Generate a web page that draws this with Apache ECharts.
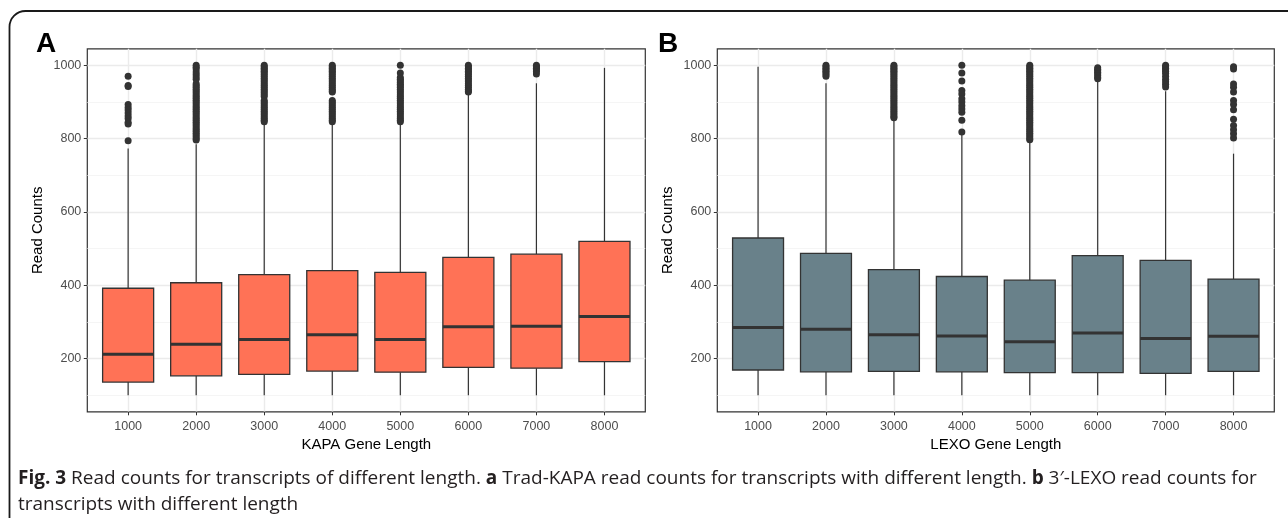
<!DOCTYPE html>
<html><head><meta charset="utf-8">
<script src="https://cdn.jsdelivr.net/npm/echarts@6/dist/echarts.min.js"></script>
<style>html,body{margin:0;padding:0;background:#fff}#c{width:1288px;height:518px}</style>
</head><body><div id="c"></div>
<script>
// ---------- data ----------
const categories = ['1000','2000','3000','4000','5000','6000','7000','8000'];
const yTicks = [200, 400, 600, 800, 1000];
const yMinorTicks = [100, 300, 500, 700, 900];

// Panel A: KAPA
const kapaLow    = [100, 100, 100, 100, 100, 100, 100, 100];
const kapaQ1     = [136, 153, 157, 166, 163, 176, 174, 192];
const kapaMedian = [212, 239, 252, 265, 252, 287, 288, 315];
const kapaQ3     = [392, 407, 429, 440, 435, 476, 485, 520];
const kapaHigh   = [773, 785, 845, 845, 845, 927, 951, 993];
const kapaOutliers = [
  [970, 945, 942, 893, 885, 878, 870, 862, 855, 845, 840, 794],
  [1000, 995, 990, 982, 975, 968, 962, 950, 945, 940, 935, 930, 925, 920, 915, 910, 905, 900, 895, 890, 885, 880, 875, 870, 865, 860, 855, 850, 845, 840, 835, 830, 825, 820, 815, 810, 805, 800, 796],
  [1000, 996, 992, 988, 984, 980, 975, 970, 965, 960, 955, 950, 945, 940, 935, 930, 925, 920, 915, 904, 900, 895, 890, 885, 880, 875, 870, 865, 860, 855, 850, 846],
  [1000, 996, 992, 988, 984, 980, 975, 970, 965, 960, 955, 950, 945, 940, 935, 930, 927, 904, 900, 895, 890, 885, 880, 875, 870, 865, 860, 855, 850, 846],
  [1000, 979, 967, 962, 958, 953, 948, 944, 940, 935, 930, 925, 920, 915, 910, 905, 900, 895, 890, 885, 880, 875, 870, 865, 860, 855, 850, 846],
  [1000, 996, 992, 988, 984, 980, 975, 970, 965, 960, 955, 950, 945, 940, 935, 930, 927],
  [1000, 996, 992, 988, 983, 976],
  []
];

// Panel B: LEXO
const lexoLow    = [100, 100, 100, 100, 100, 100, 100, 100];
const lexoQ1     = [169, 164, 165, 164, 162, 162, 160, 165];
const lexoMedian = [285, 280, 265, 262, 246, 270, 255, 261];
const lexoQ3     = [529, 487, 443, 424, 414, 481, 468, 417];
const lexoHigh   = [996, 951, 856, 816, 796, 963, 929, 759];
const lexoOutliers = [
  [],
  [1000, 996, 992, 988, 984, 980, 975, 970],
  [1000, 996, 992, 988, 984, 980, 975, 970, 965, 960, 955, 950, 945, 940, 935, 930, 925, 920, 915, 910, 905, 900, 895, 890, 885, 880, 875, 870, 865, 860, 857],
  [1000, 979, 957, 931, 922, 909, 900, 890, 881, 872, 850, 818],
  [1000, 996, 992, 988, 984, 980, 975, 970, 965, 960, 955, 950, 945, 940, 935, 930, 925, 920, 915, 910, 905, 900, 895, 890, 885, 880, 875, 870, 865, 860, 855, 850, 845, 840, 835, 830, 825, 820, 815, 810, 805, 800, 797],
  [993, 989, 985, 981, 977, 972, 967, 963],
  [1000, 996, 992, 988, 984, 978, 970, 962, 955, 948, 941],
  [996, 990, 949, 940, 927, 904, 893, 879, 853, 836, 824, 813, 802]
];

const panelTitles = ['A', 'B'];
const xTitles = ['KAPA Gene Length', 'LEXO Gene Length'];
const yTitle = 'Read Counts';

// ---------- build ----------
const FONT = 'Liberation Sans, Arial, Helvetica, sans-serif';
const catValues = categories.map((c, i) => i + 1);

function boxData(lo, q1, med, q3, hi) {
  return categories.map((c, i) => [i + 1, lo[i], q1[i], med[i], q3[i], hi[i]]);
}
function outlierData(list) {
  const out = [];
  list.forEach((vals, i) => vals.forEach(v => out.push([i + 1, v])));
  return out;
}
function makeRender(fill) {
  return function (params, api) {
    const x = api.value(0);
    const pLo = api.coord([x, api.value(1)]);
    const pQ1 = api.coord([x, api.value(2)]);
    const pMed = api.coord([x, api.value(3)]);
    const pQ3 = api.coord([x, api.value(4)]);
    const pHi = api.coord([x, api.value(5)]);
    const bw = api.size([1, 0])[0] * 0.75;
    const stroke = '#333333';
    return {
      type: 'group',
      children: [
        { type: 'line', shape: { x1: pLo[0], y1: pLo[1], x2: pQ1[0], y2: pQ1[1] }, style: { stroke, lineWidth: 1.2 } },
        { type: 'line', shape: { x1: pQ3[0], y1: pQ3[1], x2: pHi[0], y2: pHi[1] }, style: { stroke, lineWidth: 1.2 } },
        { type: 'rect', shape: { x: pQ3[0] - bw / 2, y: pQ3[1], width: bw, height: pQ1[1] - pQ3[1] }, style: { fill, stroke, lineWidth: 1.3 } },
        { type: 'line', shape: { x1: pMed[0] - bw / 2, y1: pMed[1], x2: pMed[0] + bw / 2, y2: pMed[1] }, style: { stroke, lineWidth: 3 } }
      ]
    };
  };
}

const grids = [
  { left: 87.3, top: 48.8, width: 558, height: 363, show: true, borderColor: '#333333', borderWidth: 1.2, backgroundColor: '#ffffff' },
  { left: 717.3, top: 48.8, width: 557, height: 363, show: true, borderColor: '#333333', borderWidth: 1.2, backgroundColor: '#ffffff' }
];

const xAxes = [0, 1].map(g => ({
  type: 'value', gridIndex: g, min: 0.4, max: 8.6,
  name: xTitles[g], nameLocation: 'middle', nameGap: 22,
  nameTextStyle: { fontFamily: FONT, fontSize: 15, color: '#000' },
  axisLine: { show: false, onZero: false },
  axisTick: { show: true, length: 3.5, customValues: catValues, lineStyle: { color: '#333333', width: 1 } },
  axisLabel: { customValues: catValues, formatter: v => categories[Math.round(v) - 1], fontFamily: FONT, fontSize: 12.5, color: '#4D4D4D', margin: 8 },
  splitLine: { show: false }
}));
const yAxes = [0, 1].map(g => ({
  type: 'value', gridIndex: g, min: 55, max: 1045,
  name: yTitle, nameLocation: 'middle', nameGap: 42,
  nameTextStyle: { fontFamily: FONT, fontSize: 15, color: '#000' },
  axisLine: { show: false, onZero: false },
  axisTick: { show: true, length: 3.5, customValues: yTicks, lineStyle: { color: '#333333', width: 1 } },
  axisLabel: { customValues: yTicks, formatter: v => String(v), fontFamily: FONT, fontSize: 12.5, color: '#4D4D4D', margin: 6 },
  splitLine: { show: false }
}));

function gridLineSeries(g) {
  const major = { color: '#EBEBEB', width: 1.4, type: 'solid' };
  const minor = { color: '#F2F2F2', width: 0.8, type: 'solid' };
  const data = [];
  yMinorTicks.forEach(v => data.push({ yAxis: v, lineStyle: minor }));
  yTicks.forEach(v => data.push({ yAxis: v, lineStyle: major }));
  catValues.forEach(v => data.push({ xAxis: v, lineStyle: major }));
  return {
    type: 'scatter', xAxisIndex: g, yAxisIndex: g, data: [], z: 0, silent: true,
    markLine: { z: 0, silent: true, symbol: ['none', 'none'], label: { show: false }, animation: false, data }
  };
}

const series = [
  gridLineSeries(0), gridLineSeries(1),
  { type: 'custom', xAxisIndex: 0, yAxisIndex: 0, z: 2, renderItem: makeRender('#FF7256'),
    data: boxData(kapaLow, kapaQ1, kapaMedian, kapaQ3, kapaHigh), encode: { x: 0, y: [1, 2, 3, 4, 5] } },
  { type: 'custom', xAxisIndex: 1, yAxisIndex: 1, z: 2, renderItem: makeRender('#69818A'),
    data: boxData(lexoLow, lexoQ1, lexoMedian, lexoQ3, lexoHigh), encode: { x: 0, y: [1, 2, 3, 4, 5] } },
  { type: 'scatter', xAxisIndex: 0, yAxisIndex: 0, z: 3, symbolSize: 7, itemStyle: { color: '#333333', opacity: 1 },
    data: outlierData(kapaOutliers) },
  { type: 'scatter', xAxisIndex: 1, yAxisIndex: 1, z: 3, symbolSize: 7, itemStyle: { color: '#333333', opacity: 1 },
    data: outlierData(lexoOutliers) }
];

const caption1 = [
  { t: 'Fig. 3', b: true }, { t: ' Read counts for transcripts of different length. ' },
  { t: 'a', b: true }, { t: ' Trad-KAPA read counts for transcripts with different length. ' },
  { t: 'b', b: true }, { t: ' 3\u2032-LEXO read counts for' }
];
const caption2 = 'transcripts with different length';
const CAP_FONT = '"Open Sans", "Noto Sans", sans-serif';

const graphic = [
  { type: 'rect', shape: { x: 9.5, y: 11, width: 1300, height: 530, r: [16, 0, 0, 0] },
    style: { fill: 'none', stroke: '#1a1a1a', lineWidth: 1.8 }, z: 10, silent: true },
  { type: 'text', left: 36, top: 30, style: { text: panelTitles[0], font: 'bold 28px ' + FONT, fill: '#000' }, z: 10 },
  { type: 'text', left: 658, top: 30, style: { text: panelTitles[1], font: 'bold 28px ' + FONT, fill: '#000' }, z: 10 },
  { type: 'text', left: 18, top: 469, z: 10, style: {
      text: caption1.map(p => p.b ? '{b|' + p.t + '}' : '{n|' + p.t + '}').join(''),
      rich: {
        b: { fontFamily: CAP_FONT, fontWeight: 'bold', fontSize: 19, fill: '#231F20' },
        n: { fontFamily: CAP_FONT, fontSize: 19, fill: '#231F20' }
      }
  } },
  { type: 'text', left: 18, top: 495, z: 10, style: { text: caption2, fontFamily: CAP_FONT, fontSize: 19, fill: '#231F20' } }
];

const chart = echarts.init(document.getElementById('c'), null, { renderer: 'canvas' });
chart.setOption({
  animation: false,
  backgroundColor: '#ffffff',
  grid: grids,
  xAxis: xAxes,
  yAxis: yAxes,
  series,
  graphic
});
</script>
</body></html>
